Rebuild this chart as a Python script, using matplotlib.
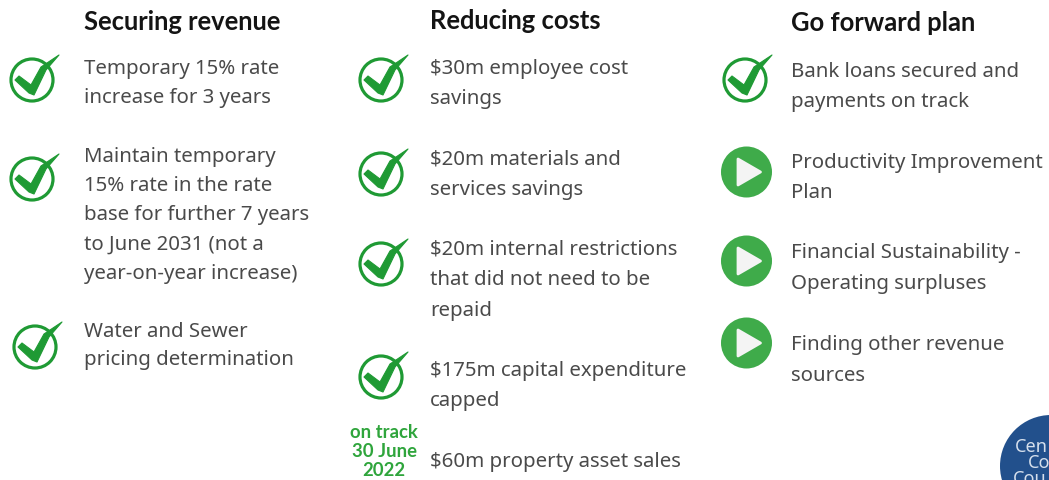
import matplotlib
matplotlib.use("Agg")
import matplotlib.pyplot as plt
from matplotlib.patches import Circle, Polygon

# Content
titles = ["Securing revenue", "Reducing costs", "Go forward plan"]
revenue_lines = ["Temporary 15% rate", "increase for 3 years",
                 "Maintain temporary", "15% rate in the rate", "base for further 7 years",
                 "to June 2031 (not a", "year-on-year increase)",
                 "Water and Sewer", "pricing determination"]
costs_lines = ["$30m employee cost", "savings",
               "$20m materials and", "services savings",
               "$20m internal restrictions", "that did not need to be", "repaid",
               "$175m capital expenditure", "capped",
               "$60m property asset sales"]
plan_lines = ["Bank loans secured and", "payments on track",
              "Productivity Improvement", "Plan",
              "Financial Sustainability -", "Operating surpluses",
              "Finding other revenue", "sources"]
on_track = ["on track", "30 June", "2022"]
logo_lines = ["Cen", "Co", "Cou"]

# Layout (pixel positions)
title_pos = [(84, 30), (430, 29), (791, 31)]
revenue_x, costs_x, plan_x = 84, 430, 791
revenue_y = [74, 103, 162, 191, 220, 250, 279, 337, 365]
costs_y = [74, 104, 164, 195, 255, 285, 316, 376, 406, 467]
plan_y = [77, 107, 168, 198, 258, 289, 350, 381]
on_track_x = 384
on_track_y = [438, 457, 476]
check_centers = [(32, 80), (32, 179), (35, 347), (381, 80), (381, 174),
                 (381, 264), (381, 377), (745, 80)]
play_centers = [(746.5, 172), (746.5, 261), (746.5, 343)]
logo_center = (1051, 466)
logo_x = [1015, 1028, 1013]
logo_y = [452, 468, 484]

GREEN_DARK = "#1f9a34"
GREEN_PLAY = "#3fab4a"
TEXT = "#4a4a4a"
FONT = "Noto Sans"

fig = plt.figure(figsize=(10.49, 4.8), dpi=100, facecolor="white")
ax = fig.add_axes([0, 0, 1, 1])
ax.set_xlim(0, 1049)
ax.set_ylim(480, 0)
ax.axis("off")


def check_icon(cx, cy):
    ax.add_patch(Circle((cx, cy), 21, fc="none", ec=GREEN_DARK, lw=2.3))
    pts = [(-17, 0), (-13, -4), (-1, 5), (9, -13), (27, -25), (14, -10), (2, 15), (-3, 13)]
    ax.add_patch(Polygon([(cx + a, cy + b) for a, b in pts], closed=True,
                         fc=GREEN_DARK, ec=GREEN_DARK, lw=0.8, joinstyle="round"))


def play_icon(cx, cy):
    ax.add_patch(Circle((cx, cy), 25.5, fc=GREEN_PLAY, ec="none"))
    pts = [(-8.5, -13), (14, 0), (-8.5, 13)]
    ax.add_patch(Polygon([(cx + a, cy + b) for a, b in pts], closed=True,
                         fc="#f4f4f4", ec="#f4f4f4", lw=2, joinstyle="round"))


for c in check_centers:
    check_icon(*c)
for c in play_centers:
    play_icon(*c)

for s, (x, y) in zip(titles, title_pos):
    ax.text(x, y, s, fontsize=18.4, fontweight="bold", color="#141414",
            family="Lato", va="baseline", ha="left")

for x, lines, ys in [(revenue_x, revenue_lines, revenue_y),
                     (costs_x, costs_lines, costs_y),
                     (plan_x, plan_lines, plan_y)]:
    for s, y in zip(lines, ys):
        ax.text(x, y, s, fontsize=14.7, color=TEXT, family=FONT,
                va="baseline", ha="left")

for s, y in zip(on_track, on_track_y):
    ax.text(on_track_x, y, s, fontsize=13.3, fontweight="bold", color="#2fa53c",
            family="Lato", va="baseline", ha="center")

ax.add_patch(Circle(logo_center, 51, fc="#22508c", ec="none", clip_on=True))
for s, x, y in zip(logo_lines, logo_x, logo_y):
    ax.text(x, y, s, fontsize=13, color="#d5dfec", family=FONT,
            va="baseline", ha="left", clip_on=True)

fig.savefig("out.png", dpi=100, facecolor="white")
